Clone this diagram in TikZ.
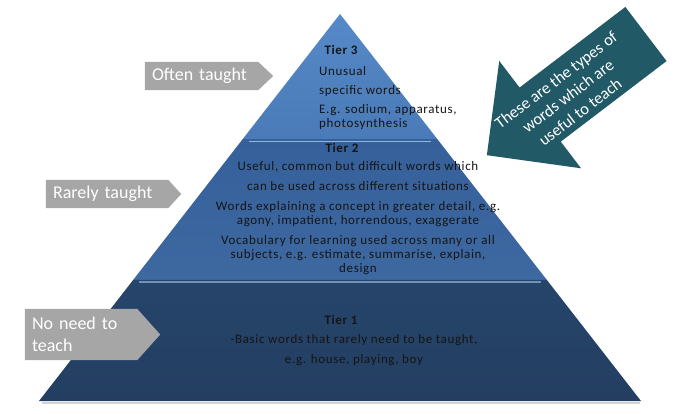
\documentclass[tikz,border=0pt]{standalone}
\usepackage{fontspec}
\setmainfont{Carlito}
\newfontfamily\tierfont{Carlito}[LetterSpace=5]
\usetikzlibrary{calc,backgrounds}

\pgfdeclarelayer{pyramid}
\pgfsetlayers{pyramid,background,main}

\definecolor{tierthreetop}{HTML}{5689C8}
\definecolor{tierthreebot}{HTML}{4A7BB8}
\definecolor{tiertwotop}{HTML}{36609A}
\definecolor{tiertwobot}{HTML}{3E68A0}
\definecolor{tieronetop}{HTML}{26456B}
\definecolor{tieronebot}{HTML}{233E61}
\definecolor{stripeup}{HTML}{8DB4E2}
\definecolor{stripedown}{HTML}{7390B8}
\definecolor{taggrey}{HTML}{A6A6A6}
\definecolor{arrowteal}{HTML}{215967}
\definecolor{tiertext}{HTML}{151515}

\begin{document}
\begin{tikzpicture}[x=1pt, y=-1pt,
    tag/.style={text=white, font=\fontsize{18}{22}\selectfont, align=left, inner xsep=7pt, inner ysep=0pt},
    tiertitle/.style={font=\tierfont\bfseries\fontsize{13}{14}\selectfont, text=tiertext, inner sep=0pt},
    tierbody/.style={font=\tierfont\fontsize{13}{14}\selectfont, text=tiertext, align=center, inner sep=0pt}]
  \useasboundingbox (0,0) rectangle (700,413);

  % pyramid
  \coordinate (apex) at (340,14);
  \coordinate (bl) at (39,401);
  \coordinate (br) at (641,401);
  \coordinate (l3) at ($(apex)!0.323!(bl)$);
  \coordinate (r3) at ($(apex)!0.323!(br)$);
  \coordinate (l2) at ($(apex)!0.687!(bl)$);
  \coordinate (r2) at ($(apex)!0.687!(br)$);
  \begin{pgfonlayer}{pyramid}
    \draw[gray!35, line width=1.5pt] ($(bl)+(3,2)$) -- ($(br)+(-1,2)$);
    \shade[top color=tierthreetop, bottom color=tierthreebot] (apex) -- (r3) -- (l3) -- cycle;
    \shade[top color=tiertwotop, bottom color=tiertwobot] (l3) -- (r3) -- (r2) -- (l2) -- cycle;
    \shade[top color=tieronetop, bottom color=tieronebot] (l2) -- (r2) -- (br) -- (bl) -- cycle;
    \draw[stripeup, line width=1.8pt] ($(l3)+(6,2.5)$) -- ($(r3)+(-6,2.5)$);
    \draw[stripedown, line width=1.5pt] ($(l2)+(6,2)$) -- ($(r2)+(-6,2)$);
  \end{pgfonlayer}

  % tier texts
  \node[tiertitle] (t3title) at (341,50) {Tier 3};
  \node[tierbody, align=left, anchor=west] (t3body) at (319,98)
    {Unusual\\[5pt] specific words\\[5pt] E.g. sodium, apparatus,\\ photosynthesis};
  \node[tiertitle] (t2title) at (342,148) {Tier 2};
  \node[tierbody] (t2body) at (358,218)
    {Useful, common but difficult words which\\[6pt]
     can be used across different situations\\[6pt]
     Words explaining a concept in greater detail, e.g.\\
     agony, impatient, horrendous, exaggerate\\[6pt]
     Vocabulary for learning used across many or all\\
     subjects, e.g. estimate, summarise, explain,\\
     design};
  \node[tiertitle] (t1title) at (341,320) {Tier 1};
  \node[tierbody] (t1body) at (354,350)
    {-Basic words that rarely need to be taught,\\[6pt] e.g. house, playing, boy};

  % grey tags
  \node[tag, minimum width=113pt, minimum height=28pt, text width=99pt] (often) at (201.5,76) {Often taught};
  \node[tag, minimum width=122pt, minimum height=28pt, text width=108pt] (rarely) at (107,194) {Rarely taught};
  \node[tag, minimum width=112pt, minimum height=51pt, text width=98pt] (noneed) at (81,334.5) {No need to\\teach};
  \begin{scope}[on background layer]
    \fill[taggrey] (often.north west) -- (often.north east) -- ([xshift=15pt]often.east)
      -- (often.south east) -- (often.south west) -- cycle;
    \fill[taggrey] (rarely.north west) -- (rarely.north east) -- ([xshift=13pt]rarely.east)
      -- (rarely.south east) -- (rarely.south west) -- cycle;
    \fill[taggrey] (noneed.north west) -- (noneed.north east) -- ([xshift=23pt]noneed.east)
      -- (noneed.south east) -- (noneed.south west) -- cycle;
  \end{scope}

  % teal arrow
  \begin{scope}[shift={(566.4,94.6)}, rotate=217.3]
    \fill[arrowteal] (-100,-34) -- (33,-34) -- (33,-67.5) -- (100,0)
      -- (33,67.5) -- (33,34) -- (-100,34) -- cycle;
  \end{scope}
  \node[text=white, font=\fontsize{16.5}{20}\selectfont, align=center, rotate=37.3] (useful) at (568,96)
    {These are the types of\\words which are\\useful to teach};
\end{tikzpicture}
\end{document}
